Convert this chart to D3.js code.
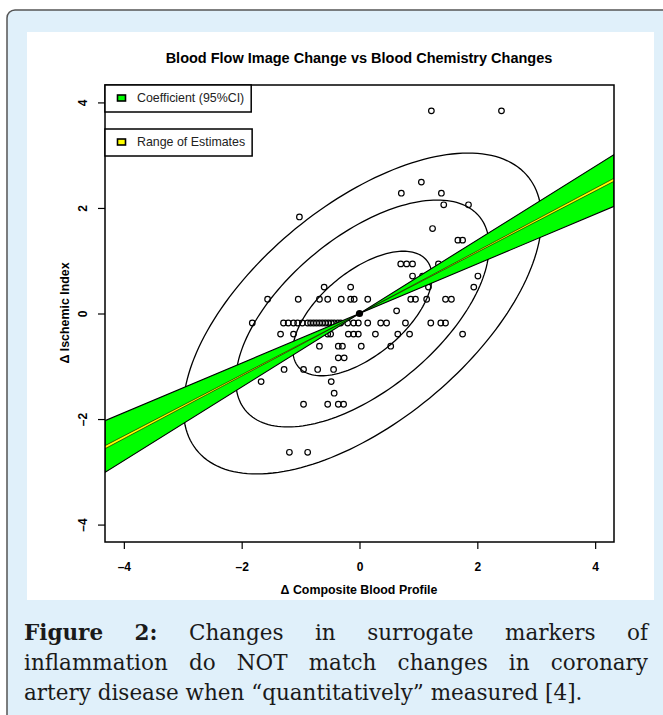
<!DOCTYPE html>
<html>
<head>
<meta charset="utf-8">
<script src="https://cdn.jsdelivr.net/npm/d3@7"></script>
<style>
  body { margin: 0; background: #fff; }
  svg text { font-family: "Liberation Sans", Arial, sans-serif; }
  svg text.cap { font-family: "DejaVu Serif", "Liberation Serif", serif; }
</style>
</head>
<body>
<svg id="fig" width="663" height="715"></svg>
<script>
// ---- data ----
const tickValues = [-4, -2, 0, 2, 4];
const legendLabels = ["Coefficient (95%CI)", "Range of Estimates"];

// observed points, grouped by their (discrete) ischemic index value
const rowY = [3.84, 2.49, 2.28, 2.06, 1.83, 1.61, 1.39, 0.94, 0.71, 0.50, 0.27, 0.05,
  -0.18, -0.39, -0.62, -0.84, -1.06, -1.29, -1.51, -1.72, -2.63];
const rowX = [
  [1.22, 2.41],
  [1.05],
  [0.71, 1.39],
  [1.43, 1.85],
  [-1.02],
  [1.24],
  [1.67, 1.75],
  [0.70, 0.80, 0.90, 1.34],
  [0.90, 1.07, 2.01],
  [-0.60, -0.15, 1.17, 1.94],
  [-1.56, -1.04, -0.68, -0.54, -0.31, -0.15, -0.09, 0.14, 0.87, 0.95, 1.14, 1.46, 1.56],
  [0.63],
  [-1.82, -1.29, -1.21, -1.12, -1.05, -0.97, -0.88, -0.83, -0.78, -0.73, -0.68, -0.63,
   -0.58, -0.53, -0.48, -0.43, -0.37, -0.32, -0.20, -0.10, -0.02, 0.14, 0.36, 0.46,
   0.78, 1.21, 1.38, 1.46],
  [-1.34, -1.12, -0.54, -0.49, -0.19, -0.10, -0.02, 0.27, 0.65, 0.85, 1.75],
  [-0.68, -0.36, -0.29, 0.03, 0.53],
  [-0.36, -0.26],
  [-1.28, -0.95, -0.71, -0.44],
  [-1.67, -0.48],
  [-0.43],
  [-0.95, -0.54, -0.36, -0.27],
  [-1.19, -0.88]
];

// data ellipse
const ellipseCenter = [0.05, 0];
const ellipseSd = [1.0, 1.0];
const ellipseCor = 0.59;
const ellipseRadii = [1.18, 2.15, 3.04];

// fitted slopes through the mean
const meanPoint = [0, 0];
const ciSlopes = [0.47, 0.697];
const estSlopes = [0.58, 0.593];

const captionLines = [
  [["Figure", true], ["2:", true], ["Changes"], ["in"], ["surrogate"], ["markers"], ["of"]],
  [["inflammation"], ["do"], ["NOT"], ["match"], ["changes"], ["in"], ["coronary"]],
  [["artery disease when \u201cquantitatively\u201d measured [4]."]]
];

// ---- layout ----
const svg = d3.select("#fig");
const box = { left: 105, right: 614, top: 85, bottom: 542 };

svg.append("rect")
  .attr("x", 7).attr("y", 10).attr("width", 720).attr("height", 760)
  .attr("rx", 8)
  .attr("fill", "#e0f0fa").attr("stroke", "#555").attr("stroke-width", 1.5);

svg.append("rect")
  .attr("x", 27).attr("y", 32).attr("width", 627).attr("height", 568)
  .attr("fill", "#fff");

const x = d3.scaleLinear().domain([-4.32, 4.32]).range([box.left, box.right]);
const y = d3.scaleLinear().domain([-4.33, 4.33]).range([box.bottom, box.top]);

svg.append("clipPath").attr("id", "plotclip")
  .append("rect")
  .attr("x", box.left).attr("y", box.top)
  .attr("width", box.right - box.left).attr("height", box.bottom - box.top);

const plot = svg.append("g").attr("clip-path", "url(#plotclip)");

// ellipses
const steps = d3.range(0, 361, 2).map(d => d * Math.PI / 180);
const ellLine = d3.line().x(d => x(d[0])).y(d => y(d[1])).curve(d3.curveLinearClosed);
ellipseRadii.forEach(c => {
  const pts = steps.map(t => [
    ellipseCenter[0] + c * ellipseSd[0] * Math.cos(t),
    ellipseCenter[1] + c * ellipseSd[1] * (ellipseCor * Math.cos(t) + Math.sqrt(1 - ellipseCor * ellipseCor) * Math.sin(t))
  ]);
  plot.append("path")
    .attr("d", ellLine(pts))
    .attr("fill", "none").attr("stroke", "#000").attr("stroke-width", 1.3);
});

// points
const points = [];
rowY.forEach((yy, i) => rowX[i].forEach(xx => points.push([xx, yy])));
plot.selectAll("circle.pt").data(points).enter().append("circle")
  .attr("class", "pt")
  .attr("cx", d => x(d[0])).attr("cy", d => y(d[1]))
  .attr("r", 2.8)
  .attr("fill", "none").attr("stroke", "#000").attr("stroke-width", 1.2);

// slope bands (bow-tie through the mean)
function band(slopes) {
  const [x0, x1] = x.domain();
  const at = (s, xx) => [xx, meanPoint[1] + s * (xx - meanPoint[0])];
  return [at(slopes[0], x0), at(slopes[0], x1), at(slopes[1], x1), at(slopes[1], x0)];
}
const poly = d3.line().x(d => x(d[0])).y(d => y(d[1])).curve(d3.curveLinearClosed);
plot.append("path").attr("d", poly(band(ciSlopes)))
  .attr("fill", "#00ff00").attr("stroke", "#000").attr("stroke-width", 1.1);
plot.append("path").attr("d", poly(band(estSlopes)))
  .attr("fill", "#ffff00").attr("stroke", "#000").attr("stroke-width", 0.6);

plot.append("circle")
  .attr("cx", x(meanPoint[0])).attr("cy", y(meanPoint[1]))
  .attr("r", 3.6).attr("fill", "#000");

// plot box
svg.append("rect")
  .attr("x", box.left).attr("y", box.top)
  .attr("width", box.right - box.left).attr("height", box.bottom - box.top)
  .attr("fill", "none").attr("stroke", "#000").attr("stroke-width", 1.5);

// axes
const fmt = d => d < 0 ? "\u2013" + Math.abs(d) : d;
const xAxis = svg.append("g")
  .attr("transform", `translate(0,${box.bottom})`)
  .call(d3.axisBottom(x).tickValues(tickValues).tickSize(7).tickPadding(13).tickFormat(fmt));
const yAxis = svg.append("g")
  .attr("transform", `translate(${box.left},0)`)
  .call(d3.axisLeft(y).tickValues(tickValues).tickSize(7).tickFormat(fmt));
[xAxis, yAxis].forEach(a => {
  a.select(".domain").remove();
  a.selectAll("line").attr("stroke", "#000").attr("stroke-width", 1.2);
  a.selectAll("text")
    .attr("font-size", 12).attr("font-weight", "bold").attr("fill", "#000");
});
yAxis.selectAll("text")
  .attr("x", 0).attr("y", -18).attr("dy", 0)
  .attr("text-anchor", "middle")
  .attr("transform", "rotate(-90)");

// titles
svg.append("text")
  .attr("x", 359).attr("y", 63)
  .attr("text-anchor", "middle")
  .attr("font-size", 14.5).attr("font-weight", "bold")
  .text("Blood Flow Image Change vs Blood Chemistry Changes");

svg.append("text")
  .attr("x", 359).attr("y", 594)
  .attr("text-anchor", "middle")
  .attr("font-size", 12.4).attr("font-weight", "bold")
  .text("\u0394 Composite Blood Profile");

svg.append("text")
  .attr("transform", "translate(69,313) rotate(-90)")
  .attr("text-anchor", "middle")
  .attr("font-size", 12.4).attr("font-weight", "bold")
  .text("\u0394 Ischemic Index");

// legends
const legendFills = ["#00ff00", "#ffff00"];
const legendTops = [85, 129];
legendLabels.forEach((lab, i) => {
  const g = svg.append("g").attr("transform", `translate(${box.left},${legendTops[i]})`);
  const t = g.append("text")
    .attr("x", 32).attr("y", 16.5)
    .attr("font-size", 12.4).attr("fill", "#222")
    .text(lab);
  const w = t.node().getComputedTextLength();
  g.insert("rect", "text")
    .attr("x", 0).attr("y", 0).attr("width", 32 + w + 7).attr("height", 27)
    .attr("fill", "#fff").attr("stroke", "#000").attr("stroke-width", 1.5);
  g.append("rect")
    .attr("x", 12.5).attr("y", 10).attr("width", 8).attr("height", 6)
    .attr("fill", legendFills[i]).attr("stroke", "#000").attr("stroke-width", 1.6);
});

// caption (justified lines 1-2, ragged last line)
const capLeft = 24, capRight = 648;
const capBase = [640, 670, 700];
captionLines.forEach((words, li) => {
  const g = svg.append("g");
  const nodes = words.map(w => g.append("text")
    .attr("class", "cap")
    .attr("y", capBase[li])
    .attr("font-size", 21.5)
    .attr("font-weight", w[1] ? "bold" : "normal")
    .attr("fill", "#1a1a1a")
    .text(w[0]));
  const widths = nodes.map(n => n.node().getComputedTextLength());
  if (words.length === 1) {
    nodes[0].attr("x", capLeft);
    return;
  }
  const gap = (capRight - capLeft - d3.sum(widths)) / (words.length - 1);
  let cx = capLeft;
  nodes.forEach((n, k) => { n.attr("x", cx); cx += widths[k] + gap; });
});
</script>
</body>
</html>
